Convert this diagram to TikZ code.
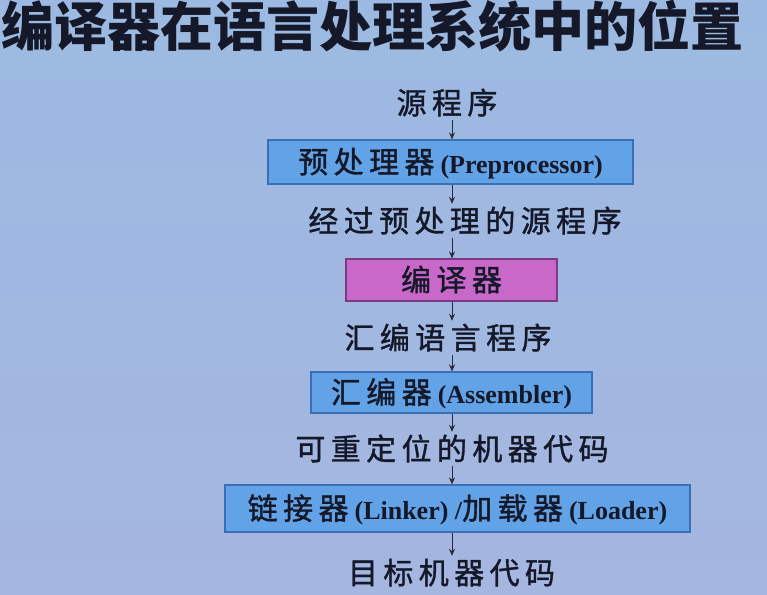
\documentclass[tikz,border=0pt]{standalone}
\usepackage{fontspec}
\setmainfont{Liberation Serif}
\newfontfamily\cjk[LetterSpace=18,FakeBold=1.2]{Noto Sans CJK SC}
\newfontfamily\tcjk{Noto Sans CJK SC}
\usetikzlibrary{arrows.meta}
\definecolor{bgtop}{HTML}{9CBAE1}
\definecolor{bgmid}{HTML}{BCD1EF}
\definecolor{bgbot}{HTML}{A5B6E0}
\definecolor{boxblue}{HTML}{62A2E6}
\definecolor{boxbdr}{HTML}{3A6EB5}
\definecolor{boxmag}{HTML}{C868C8}
\definecolor{magbdr}{HTML}{7C3A84}
\definecolor{txt}{HTML}{141828}
\definecolor{arrc}{HTML}{2A2A3A}
\newcommand{\en}[1]{\hspace{6pt}{\rmfamily\bfseries\fontsize{26}{30}\selectfont #1}}
\begin{document}
\begin{tikzpicture}[x=1pt,y=-1pt,
  lbl/.style={font={\cjk\fontsize{30}{36}\selectfont}, text=txt, inner xsep=0pt, inner ysep=2pt, text height=26pt, text depth=4pt},
  procbox/.style={draw=boxbdr, line width=1.2pt, fill=boxblue, inner sep=0pt, font={\cjk\fontsize{30}{36}\selectfont}, text=txt, text height=26pt, text depth=4pt},
  arr/.style={-{Stealth[length=7pt,width=6pt]}, line width=1pt, draw=arrc}]
\useasboundingbox (0,0) rectangle (767,594);
\shade[top color=bgtop, middle color=bgmid, bottom color=bgbot] (0,0) rectangle (767,594);
\node[anchor=base west, inner sep=0pt, text=txt, font={\tcjk\bfseries\fontsize{53}{60}\selectfont}] (title) at (1,46) {编译器在语言处理系统中的位置};
\coordinate (ax) at (452,0);
\node[lbl] (t0) at (447,103) {源程序};
\node[procbox, minimum width=365pt, minimum height=44pt] (b1) at (450.5,162) {预处理器\en{(Preprocessor)}};
\node[lbl] (t1) at (465,221) {经过预处理的源程序};
\node[procbox, fill=boxmag, draw=magbdr, minimum width=211pt, minimum height=42pt] (b2) at (451.5,280) {编译器};
\node[lbl] (t2) at (448,338) {汇编语言程序};
\node[procbox, minimum width=281pt, minimum height=41pt] (b3) at (451.5,392.5) {汇编器\en{(Assembler)}};
\node[lbl] (t3) at (452,449) {可重定位的机器代码};
\node[procbox, minimum width=465pt, minimum height=47pt] (b4) at (457.5,508.5) {链接器\en{(Linker) /}加载器\en{(Loader)}};
\node[lbl] (t4) at (451.5,573) {目标机器代码};
\draw[arr] (t0.south -| ax) -- (b1.north -| ax);
\draw[arr] (b1.south -| ax) -- (t1.north -| ax);
\draw[arr] (t1.south -| ax) -- (b2.north -| ax);
\draw[arr] (b2.south -| ax) -- (t2.north -| ax);
\draw[arr] (t2.south -| ax) -- (b3.north -| ax);
\draw[arr] (b3.south -| ax) -- (t3.north -| ax);
\draw[arr] (t3.south -| ax) -- (b4.north -| ax);
\draw[arr] (b4.south -| ax) -- (t4.north -| ax);
\end{tikzpicture}
\end{document}
